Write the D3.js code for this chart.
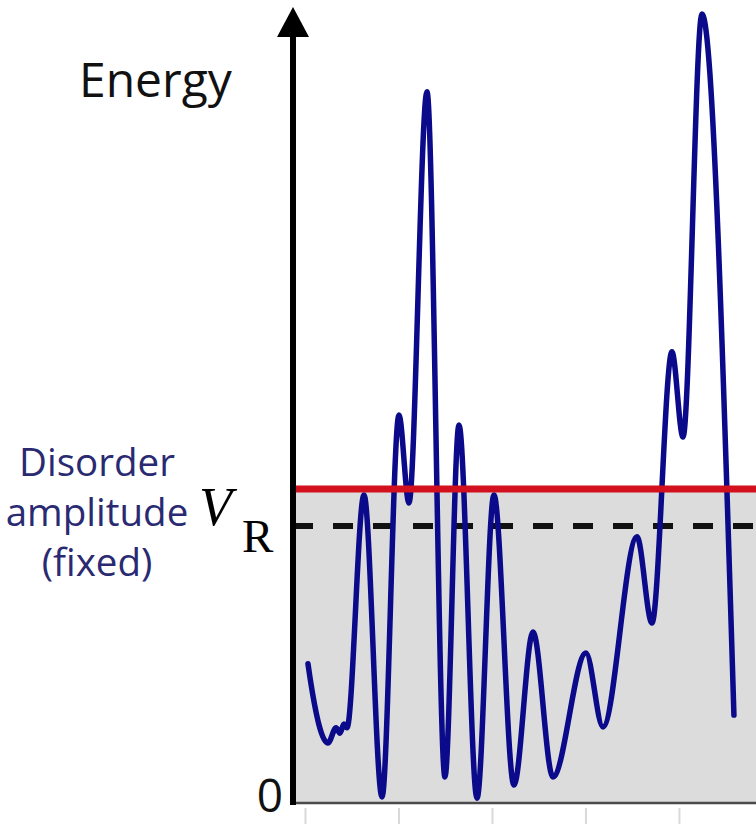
<!DOCTYPE html>
<html>
<head>
<meta charset="utf-8">
<script src="https://cdn.jsdelivr.net/npm/d3@7"></script>
<style>
  body { margin: 0; background: #fff; }
  svg { display: block; }
</style>
</head>
<body>
<div id="chart"></div>
<script>
// position of the points (x) and energy (y)
var position = [0.032, 0.053, 0.246, 0.332, 0.374, 0.417, 0.449, 0.631, 0.824, 1.005, 1.112,
                1.305, 1.497, 1.647, 1.840, 2.021, 2.235, 2.439, 2.652, 3.005, 3.187, 3.551,
                3.711, 3.925, 4.043, 4.246, 4.588];
var energy = [0.438, 0.395, 0.183, 0.232, 0.215, 0.244, 0.232, 0.981, 0.010, 1.238, 0.955,
              2.277, 0.074, 1.206, 0.006, 0.981, 0.048, 0.540, 0.074, 0.473, 0.235, 0.846,
              0.569, 1.441, 1.167, 2.527, 0.273];
var disorderLevel = 1.0;   // red line
var vrLevel = 0.881;       // dashed line V_R
var xTicks = [0, 1, 2, 3, 4];
var labelLines = ["Disorder", "amplitude", "(fixed)"];

var W = 756, H = 824;
var svg = d3.select("#chart").append("svg")
            .attr("width", W)
            .attr("height", H);

var x = d3.scaleLinear().domain([-0.096, 4.824]).range([296, 756]);
var y = d3.scaleLinear().domain([0, 2.54]).range([800, 10]);

var axisX = 293;

// grey area below the disorder amplitude
svg.append("rect")
   .attr("x", axisX)
   .attr("y", y(disorderLevel))
   .attr("width", W - axisX)
   .attr("height", y(0) + 3 - y(disorderLevel))
   .attr("fill", "#dcdcdc");

// bottom edge
svg.append("line")
   .attr("x1", axisX).attr("x2", W)
   .attr("y1", y(0) + 3).attr("y2", y(0) + 3)
   .attr("stroke", "#4a4a4a")
   .attr("stroke-width", 2.5);

// faint ticks under the bottom
var gx = svg.append("g")
   .attr("transform", "translate(0," + (y(0) + 8) + ")")
   .call(d3.axisBottom(x).tickValues(xTicks).tickSize(16).tickFormat(""));
gx.select(".domain").remove();
gx.selectAll(".tick line").attr("stroke", "#d9d9d9").attr("stroke-width", 2);

// dashed V_R line
svg.append("line")
   .attr("x1", axisX).attr("x2", W)
   .attr("y1", y(vrLevel)).attr("y2", y(vrLevel))
   .attr("stroke", "#111")
   .attr("stroke-width", 6)
   .attr("stroke-dasharray", "20,20");

// energy landscape
var pts = position.map(function(d, i) { return [d, energy[i]]; });
var line = d3.line()
             .x(function(d) { return x(d[0]); })
             .y(function(d) { return y(d[1]); })
             .curve(d3.curveMonotoneX);
svg.append("path")
   .datum(pts)
   .attr("d", line)
   .attr("fill", "none")
   .attr("stroke", "#0a0a8a")
   .attr("stroke-width", 5.5)
   .attr("stroke-linejoin", "round")
   .attr("stroke-linecap", "round");

// red disorder amplitude line
svg.append("line")
   .attr("x1", axisX).attr("x2", W)
   .attr("y1", y(disorderLevel)).attr("y2", y(disorderLevel))
   .attr("stroke", "#d2101e")
   .attr("stroke-width", 7);

// vertical energy axis with arrow
svg.append("line")
   .attr("x1", axisX).attr("x2", axisX)
   .attr("y1", y(0) + 5).attr("y2", 30)
   .attr("stroke", "#000")
   .attr("stroke-width", 6);
svg.append("path")
   .attr("d", "M" + axisX + ",7 L" + (axisX + 16) + ",37 L" + (axisX - 16) + ",37 Z")
   .attr("fill", "#000");

// texts
svg.append("text")
   .attr("x", 79).attr("y", 97)
   .attr("font-family", "Open Sans")
   .attr("font-size", 48)
   .attr("fill", "#111")
   .text("Energy");

svg.append("text")
   .attr("x", 283).attr("y", 812)
   .attr("text-anchor", "end")
   .attr("font-family", "Open Sans")
   .attr("font-size", 46)
   .attr("fill", "#111")
   .text("0");

svg.selectAll(".lbl")
   .data(labelLines)
   .enter().append("text")
   .attr("class", "lbl")
   .attr("x", 97)
   .attr("y", function(d, i) { return 476 + i * 50; })
   .attr("text-anchor", "middle")
   .attr("font-family", "Open Sans")
   .attr("font-size", 38.5)
   .attr("fill", "#2a2a72")
   .text(function(d) { return d; });

var vr = svg.append("text")
   .attr("font-family", "Liberation Serif")
   .attr("fill", "#000");
vr.append("tspan")
   .attr("x", 199).attr("y", 525)
   .attr("font-style", "italic")
   .attr("font-size", 54)
   .text("V");
vr.append("tspan")
   .attr("x", 242).attr("y", 552)
   .attr("font-size", 47)
   .text("R");
</script>
</body>
</html>
